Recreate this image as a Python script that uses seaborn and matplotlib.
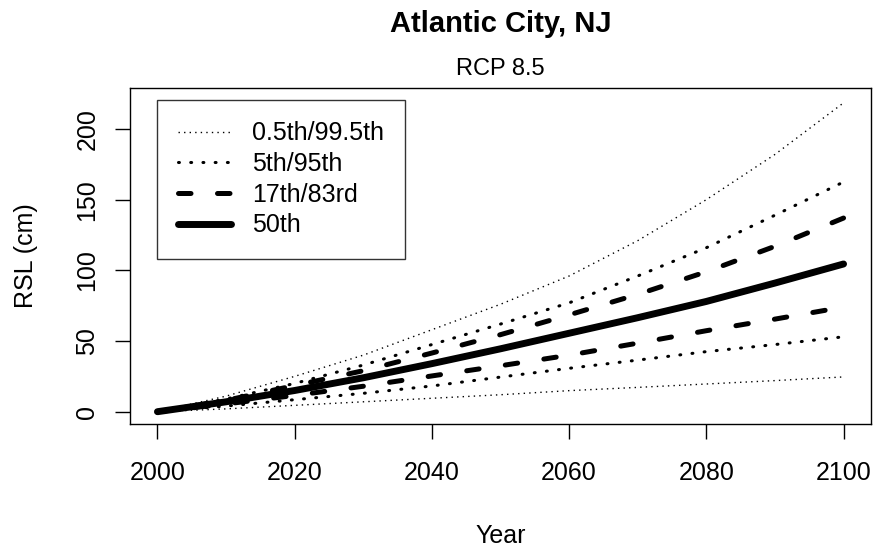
import matplotlib
matplotlib.use("Agg")
import matplotlib.pyplot as plt
import seaborn as sns
import pandas as pd
from matplotlib.lines import Line2D

years = [2000, 2010, 2020, 2030, 2040, 2050, 2060, 2070, 2080, 2090, 2100]
p50 = [0, 7, 15, 24, 34, 44.5, 55.5, 66.5, 78, 91, 104.5]
p83 = [0, 8, 18.5, 29, 41.5, 54.5, 68.5, 83, 99, 117, 137]
p17 = [0, 5.5, 11.5, 18, 25.3, 32.5, 40, 48.5, 57.3, 65.5, 74]
p95 = [0, 9, 20, 33, 47.5, 62, 77, 96, 116, 139, 162.5]
p5 = [0, 4, 8.5, 13, 18.2, 24.5, 30.7, 36.5, 42.5, 47.5, 53]
p995 = [0, 11, 25, 40, 58, 76, 96, 121, 150, 182, 218.5]
p005 = [0, 2, 4.5, 7, 9.5, 12, 14.9, 17.2, 19.6, 22, 24.6]

legend_labels = ["0.5th/99.5th", "5th/95th", "17th/83rd", "50th"]
xticks = [2000, 2020, 2040, 2060, 2080, 2100]
yticks = [0, 50, 100, 150, 200]

sns.set_theme(style="white")
plt.rcParams["font.family"] = ["Liberation Sans", "DejaVu Sans"]
plt.rcParams["text.color"] = "black"
plt.rcParams["axes.labelcolor"] = "black"
plt.rcParams["xtick.color"] = "black"
plt.rcParams["ytick.color"] = "black"

fig = plt.figure(figsize=(8.74, 5.47), dpi=100)
W, H = 874, 547
L, R, T, B = 130, 871, 88, 424
ax = fig.add_axes([L / W, 1 - B / H, (R - L) / W, (B - T) / H])

styles = {
    "thin": dict(lw=1.0, linestyle=(0, (1, 3)), dash_capstyle="butt"),
    "dot": dict(lw=2.2, linestyle=(0, (0.3, 3.7)), dash_capstyle="round"),
    "dash": dict(lw=3.6, linestyle=(0, (2.5, 5.3)), dash_capstyle="round"),
    "solid": dict(lw=5.0, linestyle="-", solid_capstyle="round"),
}

series = [(p995, "thin"), (p005, "thin"), (p95, "dot"), (p5, "dot"),
          (p83, "dash"), (p17, "dash"), (p50, "solid")]
for vals, st in series:
    df = pd.DataFrame({"Year": years, "RSL": vals})
    sns.lineplot(data=df, x="Year", y="RSL", ax=ax, color="black", **styles[st])

ax.set_xlim(1996, 2104)
ax.set_ylim(-8.7, 229)
ax.set_xticks(xticks)
ax.set_yticks(yticks)
ax.set_xticklabels([str(t) for t in xticks])
ax.set_yticklabels([str(t) for t in yticks], rotation=90, va="center")
ax.tick_params(axis="both", which="major", labelsize=18, length=11, width=1.0,
               color="black", labelcolor="black", direction="out", bottom=True, left=True)
ax.tick_params(axis="x", pad=16)
ax.tick_params(axis="y", pad=11)
for s in ax.spines.values():
    s.set_color("black")
    s.set_linewidth(1.0)

ax.set_xlabel("Year", fontsize=18, labelpad=28, color="black")
ax.set_ylabel("RSL (cm)", fontsize=18, labelpad=27, color="black")

fig.text(500.5 / W, 1 - 24 / H, "Atlantic City, NJ", ha="center", va="center",
         fontsize=21, fontweight="bold", color="black")
fig.text(500.5 / W, 1 - 69 / H, "RCP 8.5", ha="center", va="center", fontsize=17,
         color="black")

handles = [Line2D([], [], color="black", **styles[k]) for k in ["thin", "dot", "dash", "solid"]]
leg = ax.legend(handles, legend_labels, loc="upper left",
                bbox_to_anchor=((157 - L) / (R - L), (B - 100) / (B - T)),
                borderaxespad=0, fontsize=18, handlelength=2.1, handletextpad=0.85,
                borderpad=0.85, labelspacing=0.27, fancybox=False, frameon=True)
leg.get_frame().set_edgecolor("black")
leg.get_frame().set_linewidth(1.0)
for t in leg.get_texts():
    t.set_color("black")

fig.savefig("out.png", dpi=100)
